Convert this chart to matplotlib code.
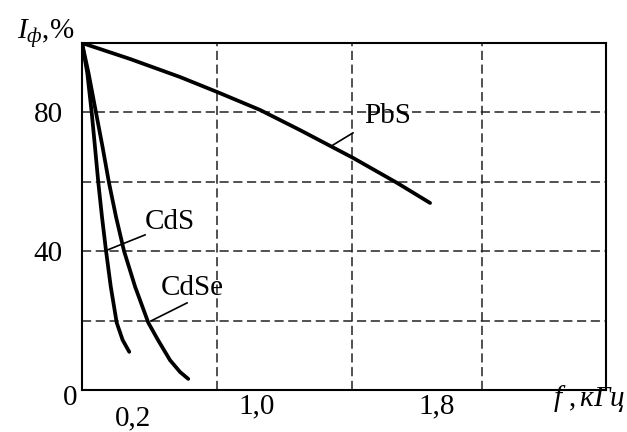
import matplotlib
matplotlib.use("Agg")
import matplotlib.pyplot as plt

plt.rcParams['font.family'] = ['Liberation Serif', 'DejaVu Serif']
plt.rcParams['mathtext.fontset'] = 'custom'
plt.rcParams['mathtext.rm'] = 'Liberation Serif'
plt.rcParams['mathtext.it'] = 'Liberation Serif:italic'

# curves (x in grid units, y in %)
pbs_x = [0.0, 0.356, 0.726, 1.0, 1.319, 1.615, 2.007, 2.333, 2.578]
pbs_y = [100, 95.4, 90.2, 85.9, 80.7, 74.9, 66.9, 59.7, 53.9]

cds_x = [0.0, 0.039, 0.072, 0.096, 0.121, 0.148, 0.178, 0.213, 0.257, 0.301, 0.350]
cds_y = [100, 91.4, 79.9, 70.1, 59.7, 49.9, 40.1, 29.8, 19.4, 14.4, 11.0]

cdse_x = [0.0, 0.048, 0.104, 0.152, 0.2, 0.252, 0.311, 0.393, 0.491, 0.563, 0.652, 0.726, 0.787]
cdse_y = [100, 91.4, 79.9, 70.1, 59.7, 49.9, 40.1, 29.8, 19.4, 14.4, 8.6, 5.2, 3.2]

grid_x = [1.0, 2.0, 2.96]
grid_y = [20, 40, 60, 80]
y_ticks = [40, 80]
x_tick_pos = [0.378, 1.296, 2.63]
x_tick_lab = ['0,2', '1,0', '1,8']

fs = 21
fig = plt.figure(figsize=(6.27, 4.32), dpi=100)
ax = fig.add_axes([82 / 627, 42 / 432, 524 / 627, 347 / 432])
ax.set_xlim(0, 3.881)
ax.set_ylim(0, 100)

dash = (0, (6, 3))
for gx in grid_x:
    ax.axvline(gx, color='#222222', lw=1.1, ls=dash, zorder=1)
for gy in grid_y:
    ax.axhline(gy, color='#222222', lw=1.1, ls=dash, zorder=1)

for xs, ys in [(pbs_x, pbs_y), (cds_x, cds_y), (cdse_x, cdse_y)]:
    ax.plot(xs, ys, color='black', lw=2.7, solid_capstyle='round',
            solid_joinstyle='round', zorder=3)

# curve labels with leader lines
ax.plot([0.467, 0.185], [44.7, 40.3], color='black', lw=1.2, zorder=3)
ax.plot([0.778, 0.511], [25.1, 19.9], color='black', lw=1.2, zorder=3)
ax.plot([2.007, 1.859], [74.1, 70.6], color='black', lw=1.2, zorder=3)
ax.text(0.652, 48.4, 'CdS', fontsize=fs, ha='center', va='center')
ax.text(0.815, 29.4, 'CdSe', fontsize=fs, ha='center', va='center')
ax.text(2.26, 79.0, 'PbS', fontsize=fs, ha='center', va='center')

for s in ax.spines.values():
    s.set_linewidth(1.5)

ax.set_yticks(y_ticks)
ax.set_yticklabels([str(v) for v in y_ticks], fontsize=fs)
ax.tick_params(axis='y', length=0, pad=14)
ax.set_xticks([])

ax.annotate('0', xy=(0, 0), xytext=(-12, -8), textcoords='offset pixels',
            ha='center', va='center', fontsize=fs)
offs = [-28, -16.5, -16.5]
for xp, lab, dy in zip(x_tick_pos, x_tick_lab, offs):
    ax.annotate(lab, xy=(xp, 0), xytext=(0, dy), textcoords='offset pixels',
                ha='center', va='center', fontsize=fs)
ax.annotate(r'$f\ ,\mathit{кГц}$', xy=(3.755, 0), xytext=(0, -8),
            textcoords='offset pixels', ha='center', va='center', fontsize=fs)

fig.text(17 / 627, 1 - 33 / 432, r'$I_{\mathit{ф}}$,%', fontsize=fs,
         ha='left', va='center')

fig.savefig('out.png', dpi=100)
